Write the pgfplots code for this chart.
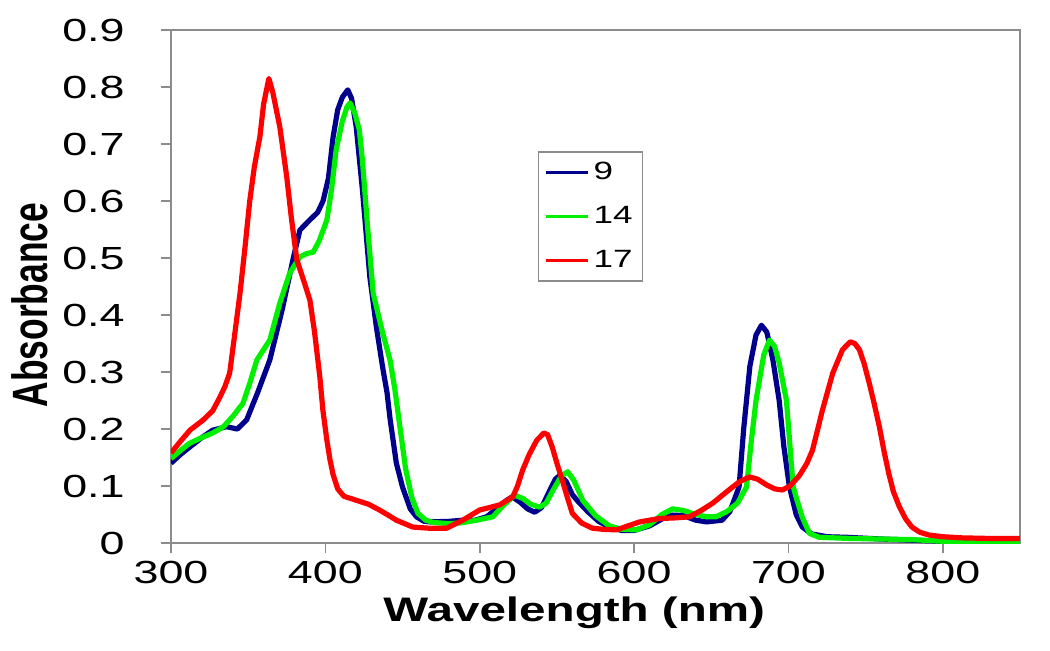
\documentclass[border=0pt]{standalone}
\usepackage{fontspec}
\setmainfont{Liberation Sans}[FakeStretch=1.4]
\newfontfamily\plainfont{Liberation Sans}
\usepackage{pgfplots}
\pgfplotsset{compat=1.18}
\definecolor{cnavy}{RGB}{0,0,140}
\definecolor{cgreen}{RGB}{0,240,0}
\definecolor{cred}{RGB}{255,0,0}
\definecolor{frame}{RGB}{140,140,140}
\begin{document}
\begin{tikzpicture}
\useasboundingbox (-85.5pt,-53.5pt) rectangle (439.5pt,271.5pt);
\begin{axis}[
  at={(0,0)}, anchor=south west,
  scale only axis, width=424.5pt, height=256.5pt,
  xmin=300, xmax=850, ymin=0, ymax=0.9,
  axis line style={draw=frame, line width=1pt},
  tick style={draw=frame, line width=0.8pt},
  tick align=outside, major tick length=5pt,
  xtick pos=left, ytick pos=left,
  xtick={300,400,500,600,700,800},
  xticklabels={300,400,500,600,700,800},
  ytick={0,0.1,0.2,0.3,0.4,0.5,0.6,0.7,0.8,0.9},
  yticklabels={0,0.1,0.2,0.3,0.4,0.5,0.6,0.7,0.8,0.9},
  ticklabel style={font=\fontsize{16}{18}\selectfont},
  yticklabel style={inner sep=0pt, xshift=-18pt},
  xticklabel style={inner sep=0pt, yshift=-4pt},
  xlabel={\fontsize{17}{20}\selectfont\bfseries Wavelength (nm)},
  xlabel style={at={(axis description cs:0.475,0)}, anchor=north, yshift=-26.5pt, inner sep=0pt},
  ylabel={\scalebox{1}[1.4]{\plainfont\fontsize{17.7}{20}\selectfont\bfseries Absorbance}},
  ylabel style={at={(axis description cs:-0.166,0.464)}, anchor=center, inner sep=0pt},
  legend style={at={(0.432,0.764)}, anchor=north west, draw=frame, line width=0.8pt,
    font=\fontsize{12.5}{14}\selectfont, inner sep=3pt, row sep=8pt,
    legend cell align=left},
  legend image code/.code={\draw[#1, line width=1.5pt] (0pt,0pt) -- (21pt,0pt);},
  every axis plot/.append style={line width=2.6pt, line join=round},
]
\addplot[cnavy] coordinates {
(300,0.140) (306,0.155) (312,0.168) (320,0.185) (327,0.198) (336,0.204) (343,0.200)
(349,0.216) (356,0.263) (364,0.321) (372,0.409) (379,0.497) (383.5,0.549) (390,0.567)
(395,0.580) (398.5,0.600) (402,0.640) (405,0.712) (408,0.760) (411,0.782) (414.5,0.795)
(417,0.780) (420,0.730) (424,0.620) (428.8,0.467) (433,0.380) (437,0.310) (440,0.263)
(442,0.216) (446,0.140) (450,0.098) (455,0.060) (459,0.046) (464,0.038) (468,0.037)
(480,0.038) (489,0.040) (497,0.040) (504.5,0.046) (511,0.060) (517.5,0.075) (521,0.081)
(526,0.072) (531,0.060) (535.6,0.054) (540,0.062) (545,0.090) (549,0.112) (552,0.119)
(556,0.108) (560,0.085) (563,0.075) (570,0.055) (577,0.038) (584,0.028) (592,0.022)
(600,0.022) (610,0.030) (618,0.042) (625,0.049) (632,0.048) (640,0.040) (647,0.037)
(657,0.040) (662,0.055) (668,0.098) (671,0.200) (675,0.310) (679,0.365) (682.5,0.382)
(686,0.370) (690,0.320) (694,0.250) (697,0.170) (700.6,0.099) (705,0.050) (709,0.028)
(715,0.016) (725,0.011) (738,0.010) (760,0.007) (800,0.003) (850,0.001)
};
\addlegendentry{9}
\addplot[cgreen] coordinates {
(300,0.148) (306,0.162) (312,0.175) (320,0.185) (327,0.193) (334,0.204) (340,0.222)
(346.6,0.245) (351,0.280) (355.6,0.321) (364,0.356) (370.5,0.421) (377,0.474) (383.5,0.502)
(388,0.508) (392,0.510) (396,0.530) (401,0.567) (404,0.620) (407,0.690) (411,0.740)
(414,0.765) (416,0.772) (419,0.755) (422,0.725) (424,0.672) (427.5,0.550) (431,0.438)
(437,0.370) (442,0.320) (445,0.270) (448,0.210) (452,0.130) (456,0.080) (460,0.052)
(465,0.040) (470,0.036) (480,0.034) (487,0.035) (498,0.040) (508.5,0.046)
(515,0.065) (522.6,0.084) (528,0.078) (533,0.068) (538.8,0.063) (543,0.070) (548,0.095)
(553,0.118) (557,0.125) (561,0.110) (566.7,0.075) (575,0.048) (584,0.030) (592,0.024)
(601.6,0.023) (610,0.032) (618,0.050) (625,0.060) (632,0.057) (640,0.050) (647,0.046)
(653,0.046) (660,0.055) (667,0.070) (672.8,0.098) (676,0.180) (679,0.250) (684,0.330)
(687.7,0.356) (691,0.345) (694,0.316) (698.7,0.250) (701,0.170) (703,0.100) (705,0.080)
(709,0.045) (713.6,0.017) (720,0.010) (740,0.008) (780,0.006) (800,0.003) (850,0.001)
};
\addlegendentry{14}
\addplot[cred] coordinates {
(300,0.158) (306,0.178) (312.3,0.198) (320.9,0.216) (327,0.232) (331.7,0.256) (335,0.275)
(338,0.298) (341,0.360) (344.7,0.438) (348,0.520) (351,0.600) (354,0.660) (357.6,0.713)
(360,0.770) (363.4,0.815) (366,0.790) (370.5,0.730) (375,0.642) (378,0.570) (381.5,0.497)
(386,0.460) (390,0.426) (393,0.370) (396.4,0.292) (398.4,0.233) (401,0.180) (403,0.146)
(405,0.120) (408,0.095) (412,0.082) (420,0.075) (428,0.068) (435,0.058) (440,0.050)
(446,0.040) (456.6,0.028) (467,0.026) (478.6,0.026) (489,0.040) (500,0.058) (506,0.062)
(513,0.067) (521.4,0.081) (524.5,0.100) (527.8,0.128) (532,0.155) (536.9,0.180) (541.5,0.193)
(544,0.190) (547,0.168) (550,0.140) (553.7,0.108) (557,0.078) (560,0.052) (566,0.035)
(573,0.026) (580,0.024) (588.7,0.023) (596,0.030) (603.6,0.037) (610,0.040) (616.5,0.043)
(626,0.044) (636,0.046) (644,0.058) (651,0.070) (660,0.090) (668,0.107) (674.8,0.116)
(680,0.112) (685.8,0.102) (691,0.095) (696,0.093) (701,0.100) (707,0.118) (712,0.140)
(715.6,0.163) (719,0.200) (722,0.233) (728.7,0.298) (735,0.339) (740,0.353) (743,0.350)
(746,0.339) (749,0.315) (752.4,0.280) (755.5,0.245) (758.9,0.204) (762,0.160) (765,0.122)
(768,0.090) (771.8,0.064) (776,0.042) (780,0.028) (785,0.019) (791,0.014) (800,0.011)
(812.6,0.009) (830,0.008) (850,0.008)
};
\addlegendentry{17}
\end{axis}
\end{tikzpicture}
\end{document}
